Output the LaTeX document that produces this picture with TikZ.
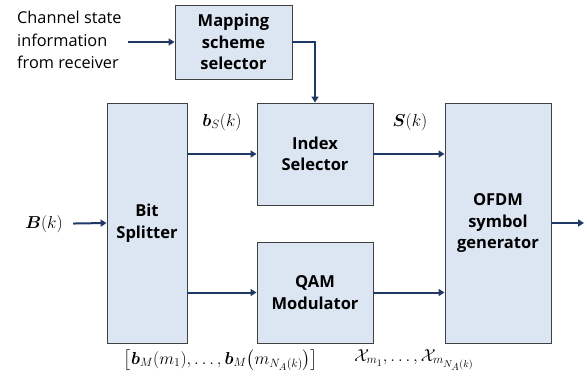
\documentclass[tikz,border=0pt]{standalone}
\usepackage{fontspec}
\usepackage{amsmath}
\setmainfont{Open Sans}
\usetikzlibrary{arrows.meta}
\definecolor{boxfill}{HTML}{DCE6F2}
\definecolor{boxline}{HTML}{404040}
\definecolor{sigblue}{HTML}{1F3864}

\begin{document}
\begin{tikzpicture}[x=1pt, y=-1pt, every node/.style={font=\fontsize{17.28}{22}\selectfont},
	block/.style={draw=boxline, fill=boxfill, line width=0.9pt, rectangle, inner sep=0pt,
		align=center, font=\fontsize{16.5}{21.5}\selectfont\bfseries},
	sig/.style={draw=sigblue, line width=2pt, -{Triangle[length=6pt,width=7pt]}}]
	\useasboundingbox (0,0) rectangle (587,380);

	% Blocks
	\node[block, minimum width=117pt, minimum height=74pt] (map) at (233.5,42) {Mapping\\scheme\\selector};
	\node[block, minimum width=80pt, minimum height=240pt] (bit) at (147,223) {Bit\\Splitter};
	\node[block, minimum width=116pt, minimum height=102pt] (index) at (315,154) {Index\\Selector};
	\node[block, minimum width=116pt, minimum height=101pt] (qam) at (315,292.5) {QAM\\Modulator};
	\node[block, minimum width=106pt, minimum height=240pt] (ofdm) at (498,223) {OFDM\\symbol\\generator};

	% Inputs and output
	\node[anchor=west, align=left, inner sep=0pt, font=\fontsize{16.3}{22.5}\selectfont] (csi) at (17,40) {Channel state\\information\\from receiver};
	\coordinate (csiend) at (128,42);
	\node (bk) at (44,224) {$\boldsymbol{B}(k)$};
	\coordinate (out) at (584,223);

	% Signal labels
	\node (bslbl) at (222,122) {$\boldsymbol{b}_S(k)$};
	\node (slbl) at (410,122) {$\boldsymbol{S}(k)$};
	\node (bmlbl) at (221,360) {$\big[\boldsymbol{b}_M(m_1),\ldots,\boldsymbol{b}_M\big(m_{N_A(k)}\big)\big]$};
	\node (xlbl) at (414,360) {$\mathcal{X}_{m_1},\ldots,\mathcal{X}_{m_{N_A(k)}}$};

	% Connectors
	\draw[sig] (csiend) -- (map.west);
	\draw[sig] (map.east) -| (index.north);
	\draw[sig, shorten <=7pt] (bk) -- (bit.west);
	\draw[sig] (bit.east |- index) -- (index.west);
	\draw[sig] (bit.east |- qam) -- (qam.west);
	\draw[sig] (index.east) -- (ofdm.west |- index);
	\draw[sig] (qam.east) -- (ofdm.west |- qam);
	\draw[sig] (ofdm.east) -- (out);
\end{tikzpicture}
\end{document}
